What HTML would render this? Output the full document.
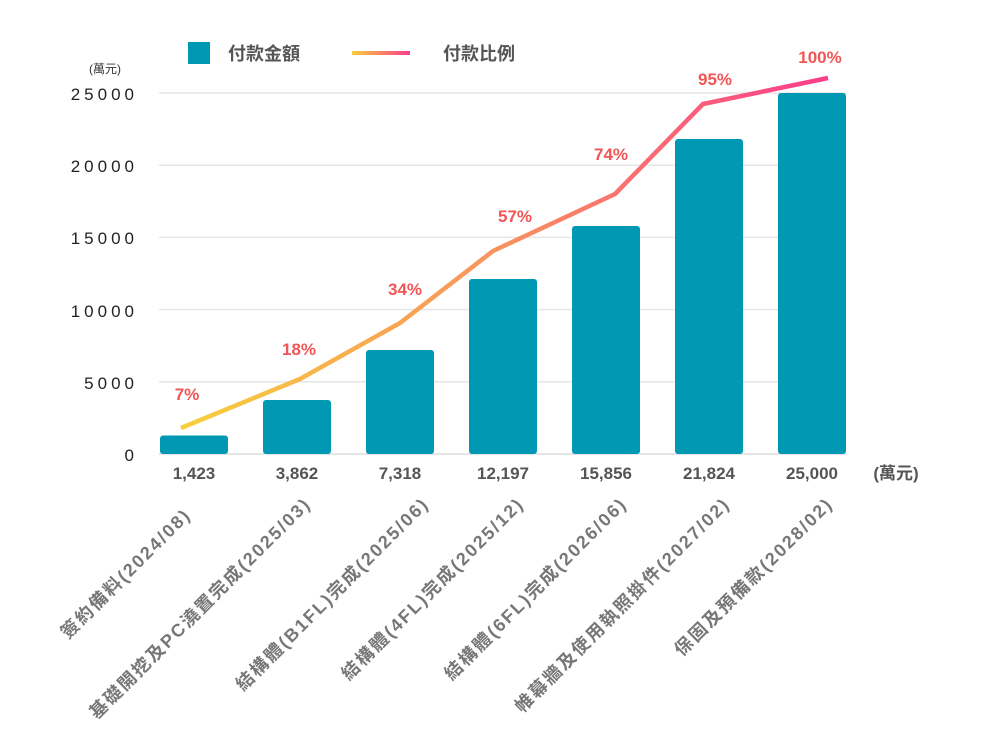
<!DOCTYPE html>
<html><head><meta charset="utf-8"><style>
body{margin:0;background:#fff;}
svg{display:block;font-family:"Liberation Sans","Noto Sans CJK TC",sans-serif;}
</style></head><body>
<svg width="995" height="755" viewBox="0 0 995 755" xmlns="http://www.w3.org/2000/svg">
<defs>
<linearGradient id="g" x1="181" y1="0" x2="828" y2="0" gradientUnits="userSpaceOnUse">
<stop offset="0" stop-color="#f7cf3c"/><stop offset="0.5" stop-color="#f9915f"/><stop offset="1" stop-color="#fb3c8c"/>
</linearGradient>
<linearGradient id="g2" x1="352" y1="0" x2="410" y2="0" gradientUnits="userSpaceOnUse">
<stop offset="0" stop-color="#f7cf3c"/><stop offset="1" stop-color="#fb3c8c"/>
</linearGradient>
</defs>
<rect x="188" y="42" width="22" height="22" fill="#0098b2"/>
<text x="228" y="60" font-size="18" font-weight="bold" fill="#555">付款金額</text>
<rect x="352" y="51" width="58" height="4" fill="url(#g2)"/>
<text x="443" y="60" font-size="18" font-weight="bold" fill="#555">付款比例</text>
<text x="105" y="73" font-size="12" fill="#333" text-anchor="middle">(萬元)</text>
<g font-size="17" fill="#222" text-anchor="end" letter-spacing="4">
<text x="138" y="100">25000</text>
<text x="138" y="172">20000</text>
<text x="138" y="244">15000</text>
<text x="138" y="317">10000</text>
<text x="138" y="389">5000</text>
<text x="138" y="461">0</text>
</g>
<g stroke="#e6e6e6" stroke-width="1.5">
<line x1="159" y1="93" x2="846" y2="93"/>
<line x1="159" y1="165.2" x2="846" y2="165.2"/>
<line x1="159" y1="237.4" x2="846" y2="237.4"/>
<line x1="159" y1="309.6" x2="846" y2="309.6"/>
<line x1="159" y1="381.8" x2="846" y2="381.8"/>
<line x1="159" y1="454" x2="846" y2="454" stroke="#ddd"/>
</g>
<g fill="#0098b2">
<rect x="160" y="435.5" width="68" height="18.5" rx="3"/>
<rect x="263" y="400" width="68" height="54" rx="3"/>
<rect x="366" y="350" width="68" height="104" rx="3"/>
<rect x="469" y="279" width="68" height="175" rx="3"/>
<rect x="572" y="226" width="68" height="228" rx="3"/>
<rect x="675" y="139" width="68" height="315" rx="3"/>
<rect x="778" y="93" width="68" height="361" rx="3"/>
</g>
<polyline points="181,428 300,379 400,323 493,251 615,194 703,104 828,78" fill="none" stroke="url(#g)" stroke-width="4.5" stroke-linejoin="round"/>
<g font-size="17" font-weight="bold" fill="#f25555" text-anchor="middle">
<text x="187" y="400">7%</text>
<text x="299" y="355">18%</text>
<text x="405" y="295">34%</text>
<text x="515" y="222">57%</text>
<text x="611" y="160">74%</text>
<text x="715" y="85">95%</text>
<text x="820" y="63">100%</text>
</g>
<g font-size="17" font-weight="bold" fill="#555" text-anchor="middle">
<text x="194" y="479">1,423</text>
<text x="297" y="479">3,862</text>
<text x="400" y="479">7,318</text>
<text x="503" y="479">12,197</text>
<text x="606" y="479">15,856</text>
<text x="709" y="479">21,824</text>
<text x="812" y="479">25,000</text>
<text x="896" y="479">(萬元)</text>
</g>
<g font-size="18" font-weight="bold" fill="#777" text-anchor="end" letter-spacing="2">
<text transform="translate(192,516) rotate(-45)">簽約備料(2024/08)</text>
<text transform="translate(312,505) rotate(-45)">基礎開挖及PC澆置完成(2025/03)</text>
<text transform="translate(430,505) rotate(-45)">結構體(B1FL)完成(2025/06)</text>
<text transform="translate(525,505) rotate(-45)">結構體(4FL)完成(2025/12)</text>
<text transform="translate(628,505) rotate(-45)">結構體(6FL)完成(2026/06)</text>
<text transform="translate(731,505) rotate(-45)">帷幕牆及使用執照掛件(2027/02)</text>
<text transform="translate(834,505) rotate(-45)">保固及預備款(2028/02)</text>
</g>
</svg>
</body></html>
